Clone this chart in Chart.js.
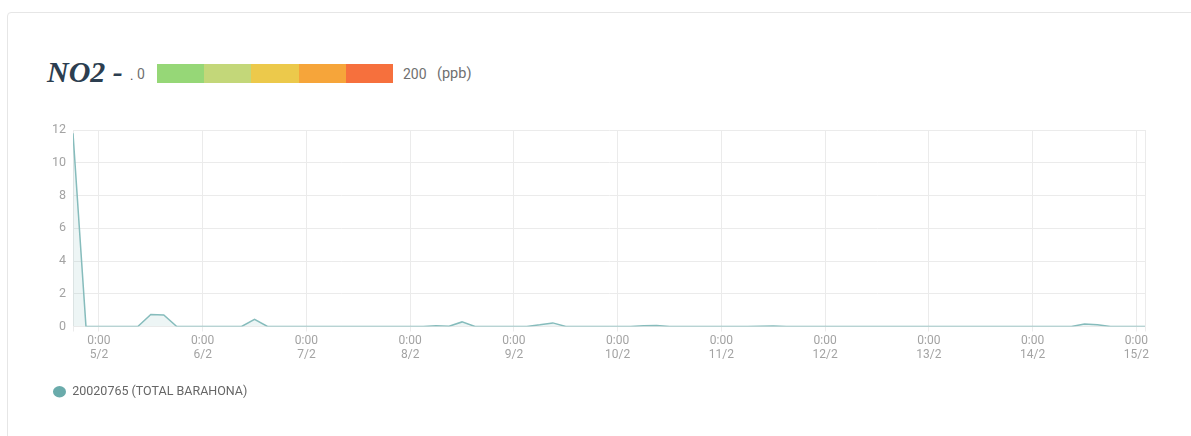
<!DOCTYPE html>
<html>
<head>
<meta charset="utf-8">
<script src="https://cdn.jsdelivr.net/npm/chart.js@4.4.1/dist/chart.umd.min.js"></script>
<style>
  body { margin: 0; background: #fff; width: 1191px; height: 436px; overflow: hidden; position: relative; font-family: Roboto, sans-serif; }
  .card { position: absolute; left: 7px; top: 12px; width: 1300px; height: 500px; border: 1px solid #e6e6e6; border-radius: 4px; }
  .titulo { position: absolute; left: 47px; top: 55px; font: italic bold 30px "Liberation Serif", serif; color: #2c3e50; line-height: 34px; white-space: nowrap; }
  .punto { position: absolute; left: 130px; top: 68px; font-size: 13px; color: #555; line-height: 16px; }
  .escala { position: absolute; top: 65px; font-size: 14px; color: #707070; line-height: 18px; white-space: pre; }
  .barra { position: absolute; left: 157px; top: 64px; height: 19px; display: flex; }
  .barra div { width: 47.2px; height: 19px; }
  #wrap { position: absolute; left: 43px; top: 115px; }
</style>
</head>
<body>
<div class="card"></div>
<div class="titulo">NO2 -</div>
<div class="punto">.</div>
<div class="escala" style="left:137px">0</div>
<div class="barra" id="barra"></div>
<div class="escala" style="left:403px">200</div>
<div class="escala" style="left:437px; font-size:14.5px">(ppb)</div>
<div id="wrap"><canvas id="grafico" width="1117" height="293"></canvas></div>

<script>
// Escala de colores del índice (0 - 200 ppb)
const coloresEscala = ["#96d777", "#c3d779", "#ecc94b", "#f6a53a", "#f6703d"];

// Ejes
const diasEtiquetas = ["5/2", "6/2", "7/2", "8/2", "9/2", "10/2", "11/2", "12/2", "13/2", "14/2", "15/2"];
const horaEtiqueta = "0:00";
const ejeXMin = -6;   // 4/2 18:00 (horas desde 5/2 0:00)
const ejeXMax = 242;
const ejeYMax = 12;

// Lecturas NO2 cada 3 horas, desde 4/2 18:00
const horaInicio = -6;
const pasoHoras = 3;
const lecturasNO2 = [
  11.8, 0,                                  // 4/2 18:00, 21:00
  0, 0, 0, 0, 0.73, 0.7, 0, 0,              // 5/2
  0, 0, 0, 0, 0.43, 0, 0, 0,                // 6/2
  0, 0, 0, 0, 0, 0, 0, 0,                   // 7/2
  0, 0, 0.04, 0.02, 0.28, 0, 0, 0,          // 8/2
  0, 0, 0.1, 0.22, 0, 0, 0, 0,              // 9/2
  0, 0, 0.04, 0.06, 0, 0, 0, 0,             // 10/2
  0, 0, 0, 0.02, 0.03, 0, 0, 0,             // 11/2
  0, 0, 0, 0, 0, 0, 0, 0,                   // 12/2
  0, 0, 0, 0, 0, 0, 0, 0,                   // 13/2
  0, 0, 0, 0, 0.15, 0.1, 0, 0,              // 14/2
  0, 0                                      // 15/2 0:00, 3:00
];
const estacion = "20020765 (TOTAL BARAHONA)";

// barra de colores
const barra = document.getElementById("barra");
coloresEscala.forEach((c) => {
  const d = document.createElement("div");
  d.style.background = c;
  barra.appendChild(d);
});

const puntos = lecturasNO2.map((v, i) => ({ x: horaInicio + i * pasoHoras, y: v }));

const gris = "#a3a3a3";
const rejilla = "#ebebeb";

new Chart(document.getElementById("grafico"), {
  type: "line",
  data: {
    datasets: [
      {
        label: estacion,
        data: puntos,
        borderColor: "#86bcbc",
        backgroundColor: "rgba(106, 171, 171, 0.12)",
        borderWidth: 1.5,
        pointRadius: 0,
        pointHoverRadius: 0,
        tension: 0,
        fill: "origin",
      },
    ],
  },
  options: {
    responsive: false,
    animation: false,
    layout: { padding: { top: 15, right: 15, left: 0, bottom: 0 } },
    scales: {
      x: {
        type: "linear",
        min: ejeXMin,
        max: ejeXMax,
        afterBuildTicks: (scale) => {
          const t = [ejeXMin];
          diasEtiquetas.forEach((d, i) => t.push(i * 24));
          t.push(ejeXMax);
          scale.ticks = t.map((v) => ({ value: v }));
        },
        afterFit: (scale) => { scale.height = 49; },
        ticks: {
          autoSkip: false,
          maxRotation: 0,
          padding: 2,
          color: gris,
          font: { family: "Roboto", size: 12 },
          callback: (v) => {
            if (v < 0 || v % 24 !== 0) return "";
            return [horaEtiqueta, diasEtiquetas[v / 24]];
          },
        },
        grid: { color: rejilla, tickLength: 5, tickColor: rejilla },
        border: { color: rejilla },
      },
      y: {
        min: 0,
        max: ejeYMax,
        afterFit: (scale) => { scale.width = 30; },
        ticks: {
          stepSize: 2,
          padding: 7,
          color: gris,
          font: { family: "Roboto", size: 12.5 },
        },
        grid: { color: rejilla, drawTicks: false },
        border: { color: rejilla },
      },
    },
    plugins: {
      tooltip: { enabled: false },
      legend: {
        position: "bottom",
        align: "start",
        labels: {
          usePointStyle: true,
          pointStyle: "circle",
          boxHeight: 8,
          pointStyleWidth: 13,
          color: "#666",
          font: { family: "Roboto", size: 12.5 },
          generateLabels: (chart) =>
            chart.data.datasets.map((ds, i) => ({
              text: ds.label,
              fillStyle: "#6aabab",
              strokeStyle: "#6aabab",
              lineWidth: 0,
              pointStyle: "circle",
              datasetIndex: i,
              fontColor: "#666",
            })),
        },
      },
    },
  },
});
</script>
</body>
</html>
